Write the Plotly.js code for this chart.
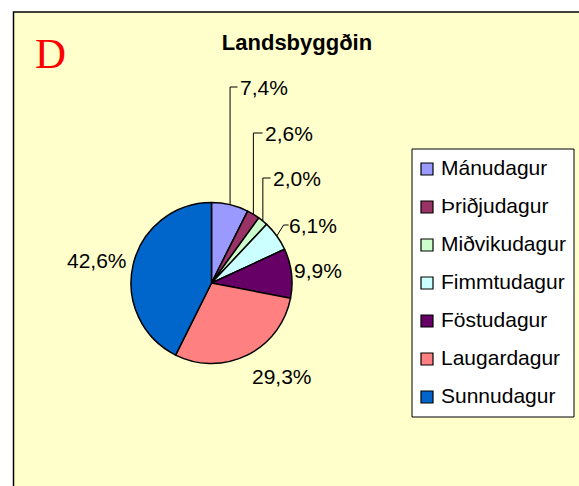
<!DOCTYPE html>
<html>
<head>
<meta charset="utf-8">
<script src="https://cdn.plot.ly/plotly-3.0.1.min.js"></script>
<style>html,body{margin:0;padding:0;background:#fff;}#chart{width:579px;height:486px;}</style>
</head>
<body>
<div id="chart"></div>
<script>
const categories = ['Mánudagur','Þriðjudagur','Miðvikudagur','Fimmtudagur','Föstudagur','Laugardagur','Sunnudagur'];
const values = [7.4, 2.6, 2.0, 6.1, 9.9, 29.3, 42.6];
const valueLabels = ['7,4%','2,6%','2,0%','6,1%','9,9%','29,3%','42,6%'];
const colors = ['#9999FF','#993366','#CCFFCC','#CCFFFF','#660066','#FF8080','#0066CC'];
const chartTitle = 'Landsbyggðin';
const panelLetter = 'D';

// layout constants (pixels)
const W = 579, H = 486;
const CX = 211.5, CY = 283, R = 80.5;
// label placement (pixel centre) and leader style, per slice
const labelPos = [[264,87],[289,133],[297,178],[313,225],[318,270],[282,376],[97,260]];
const leader = ['elbow','elbow','elbow','straight','none','none','none'];
const FONT = 'Liberation Sans, Arial, sans-serif';

const px = x => x / W;
const py = y => 1 - y / H;

const shapes = [];
const annotations = [];

// chart area background + border
shapes.push({type:'rect', xref:'paper', yref:'paper', layer:'below',
  x0: px(13.5), x1: px(W + 20), y0: py(12), y1: py(H + 20),
  fillcolor:'#FFFFCC', line:{color:'#000', width:1.5}});

// labels and leader lines computed from data
const total = values.reduce((a,b)=>a+b,0);
let cum = 0;
values.forEach((v,i) => {
  const mid = (cum + v/2) / total;
  cum += v;
  const th = 2*Math.PI*mid;
  const ex = CX + R*Math.sin(th), ey = CY - R*Math.cos(th);
  const [lx, ly] = labelPos[i];
  const txt = valueLabels[i];
  const halfW = txt.length * 5.6;
  annotations.push({xref:'paper', yref:'paper', x: px(lx), y: py(ly),
    xanchor:'center', yanchor:'middle', text: txt, showarrow:false,
    font:{family:FONT, size:21, color:'#000'}});
  if (leader[i] === 'elbow') {
    const endX = lx - halfW - 4;
    shapes.push({type:'path', xref:'paper', yref:'paper',
      path:`M ${px(ex)} ${py(ey)} L ${px(ex)} ${py(ly)} L ${px(endX)} ${py(ly)}`,
      line:{color:'#000', width:1}});
  } else if (leader[i] === 'straight') {
    const endX = lx - halfW - 2;
    shapes.push({type:'path', xref:'paper', yref:'paper',
      path:`M ${px(ex)} ${py(ey)} L ${px(endX-5)} ${py(ly)} L ${px(endX)} ${py(ly)}`,
      line:{color:'#000', width:1}});
  }
});

// legend (custom to match item spacing)
shapes.push({type:'rect', xref:'paper', yref:'paper',
  x0: px(412), x1: px(574), y0: py(149), y1: py(417),
  fillcolor:'#FFFFFF', line:{color:'#000', width:1}});
categories.forEach((c,i) => {
  const yc = 169 + 38*i;
  shapes.push({type:'rect', xref:'paper', yref:'paper',
    x0: px(421), x1: px(433), y0: py(yc-6), y1: py(yc+6),
    fillcolor: colors[i], line:{color:'#000', width:1.2}});
  annotations.push({xref:'paper', yref:'paper', x: px(439), y: py(yc-2),
    xanchor:'left', yanchor:'middle', text: c, showarrow:false,
    font:{family:FONT, size:21, color:'#000'}});
});

// panel letter
annotations.push({xref:'paper', yref:'paper', x: px(51), y: py(53),
  xanchor:'center', yanchor:'middle', text: panelLetter, showarrow:false,
  font:{family:'Liberation Serif, Times New Roman, serif', size:43, color:'#FF0000'}});

const trace = {
  type:'pie', labels: categories, values: values, sort:false,
  direction:'clockwise', rotation:0,
  marker:{colors: colors, line:{color:'#000', width:1.5}},
  textinfo:'none', hoverinfo:'none', showlegend:false,
  domain:{x:[px(CX-R), px(CX+R)], y:[py(CY+R), py(CY-R)]}
};

const layout = {
  width: W, height: H,
  margin:{l:0,r:0,t:0,b:0},
  paper_bgcolor:'#FFFFFF',
  showlegend:false,
  title:{text: chartTitle, x: px(297), xanchor:'center', y: py(42), yanchor:'middle',
    font:{family:FONT, size:22, color:'#000', weight:'bold'}},
  shapes: shapes,
  annotations: annotations
};

Plotly.newPlot('chart', [trace], layout, {displayModeBar:false, staticPlot:true});
</script>
</body>
</html>
